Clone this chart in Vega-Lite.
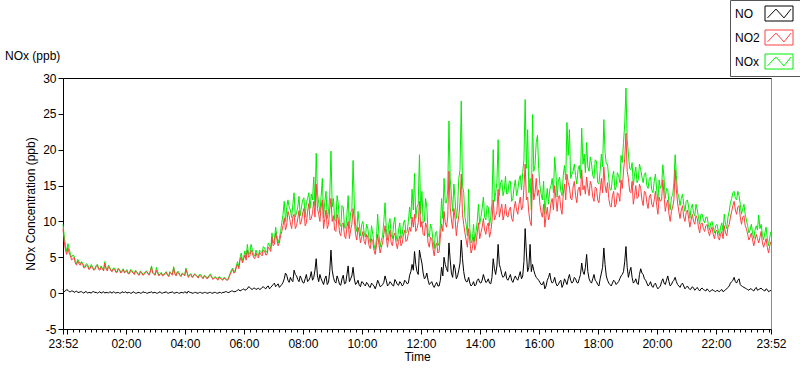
{
"$schema": "https://vega.github.io/schema/vega-lite/v6.json",
"width": 708, "height": 251,
"autosize": "none",
"padding": {"left": 63, "top": 78, "right": 29, "bottom": 40},
"background": "white",
"title": {"text": "NOx (ppb)", "anchor": "start", "frame": "group", "dx": -58, "offset": -63, "fontSize": 12, "fontWeight": "normal", "color": "#000"},
"config": {"font": "Liberation Sans", "view": {"stroke": "#8c8c8c", "strokeWidth": 1},
  "axis": {"labelFontSize": 12, "titleFontSize": 12, "titleFontWeight": "normal", "labelColor": "#000", "titleColor": "#000", "domainColor": "#000", "tickColor": "#000", "grid": false},
  "axisY": {"values": [-5,0,5,10,15,20,25,30], "tickSize": 5, "labelPadding": 2, "titlePadding": 5, "labelOverlap": false, "labelExpr": "datum.value < 0 ? '-' + abs(datum.value) : '' + datum.value"}},
"data": {"values": [
{"t":0,"NO":0.5,"NO2":9.0,"NOx":9.6},{"t":5,"NO":0.3,"NO2":6.0,"NOx":6.6},{"t":10,"NO":0.4,"NO2":6.3,"NOx":6.9},{"t":15,"NO":0.2,"NO2":5.2,"NOx":5.5},{"t":20,"NO":0.3,"NO2":4.8,"NOx":5.3},{"t":25,"NO":0.2,"NO2":4.2,"NOx":4.4},{"t":30,"NO":0.1,"NO2":4.5,"NOx":4.7},{"t":35,"NO":0.2,"NO2":3.9,"NOx":4.1},{"t":40,"NO":0.1,"NO2":4.0,"NOx":4.2},{"t":45,"NO":0.2,"NO2":3.6,"NOx":3.8},
{"t":50,"NO":0.0,"NO2":3.8,"NOx":4.0},{"t":55,"NO":0.1,"NO2":3.4,"NOx":3.5},{"t":60,"NO":0.2,"NO2":3.6,"NOx":3.7},{"t":65,"NO":0.1,"NO2":3.3,"NOx":3.4},{"t":70,"NO":0.0,"NO2":3.9,"NOx":4.0},{"t":75,"NO":0.2,"NO2":3.2,"NOx":3.4},{"t":80,"NO":0.1,"NO2":3.4,"NOx":3.5},{"t":85,"NO":0.0,"NO2":4.2,"NOx":4.4},{"t":90,"NO":0.1,"NO2":3.1,"NOx":3.2},{"t":95,"NO":0.2,"NO2":3.5,"NOx":3.6},
{"t":100,"NO":0.0,"NO2":3.0,"NOx":3.1},{"t":105,"NO":0.1,"NO2":3.3,"NOx":3.5},{"t":110,"NO":0.1,"NO2":2.9,"NOx":3.0},{"t":115,"NO":0.0,"NO2":3.2,"NOx":3.3},{"t":120,"NO":0.2,"NO2":3.0,"NOx":3.1},{"t":125,"NO":0.1,"NO2":2.8,"NOx":2.9},{"t":130,"NO":0.0,"NO2":3.1,"NOx":3.3},{"t":135,"NO":0.1,"NO2":2.7,"NOx":2.8},{"t":140,"NO":0.0,"NO2":3.0,"NOx":3.2},{"t":145,"NO":0.1,"NO2":2.6,"NOx":2.7},
{"t":150,"NO":0.0,"NO2":2.9,"NOx":3.0},{"t":155,"NO":0.1,"NO2":2.5,"NOx":2.6},{"t":160,"NO":0.0,"NO2":2.8,"NOx":2.9},{"t":165,"NO":0.1,"NO2":2.6,"NOx":2.7},{"t":170,"NO":0.0,"NO2":3.0,"NOx":3.1},{"t":175,"NO":0.1,"NO2":2.5,"NOx":2.6},{"t":180,"NO":0.2,"NO2":3.6,"NOx":3.8},{"t":185,"NO":0.1,"NO2":2.6,"NOx":2.7},{"t":190,"NO":0.0,"NO2":3.2,"NOx":3.6},{"t":195,"NO":0.1,"NO2":2.4,"NOx":2.5},
{"t":200,"NO":0.0,"NO2":2.8,"NOx":2.9},{"t":205,"NO":0.1,"NO2":2.5,"NOx":2.6},{"t":210,"NO":0.2,"NO2":2.9,"NOx":3.0},{"t":215,"NO":0.0,"NO2":2.3,"NOx":2.4},{"t":220,"NO":0.1,"NO2":2.7,"NOx":2.8},{"t":225,"NO":0.0,"NO2":3.5,"NOx":3.7},{"t":230,"NO":0.1,"NO2":2.4,"NOx":2.5},{"t":235,"NO":0.0,"NO2":2.8,"NOx":3.0},{"t":240,"NO":0.1,"NO2":2.3,"NOx":2.4},{"t":245,"NO":0.0,"NO2":2.6,"NOx":2.7},
{"t":250,"NO":0.1,"NO2":3.3,"NOx":3.5},{"t":255,"NO":0.3,"NO2":2.2,"NOx":2.3},{"t":260,"NO":0.1,"NO2":2.6,"NOx":2.7},{"t":265,"NO":0.0,"NO2":2.3,"NOx":2.4},{"t":270,"NO":0.1,"NO2":2.5,"NOx":2.6},{"t":275,"NO":0.0,"NO2":2.1,"NOx":2.2},{"t":280,"NO":0.1,"NO2":2.4,"NOx":2.6},{"t":285,"NO":0.0,"NO2":2.0,"NOx":2.1},{"t":290,"NO":0.1,"NO2":2.3,"NOx":2.4},{"t":295,"NO":0.0,"NO2":2.1,"NOx":2.2},
{"t":300,"NO":0.1,"NO2":2.5,"NOx":2.7},{"t":305,"NO":0.0,"NO2":1.9,"NOx":2.0},{"t":310,"NO":0.1,"NO2":2.2,"NOx":2.3},{"t":315,"NO":0.0,"NO2":1.8,"NOx":1.9},{"t":320,"NO":0.1,"NO2":2.1,"NOx":2.2},{"t":325,"NO":0.1,"NO2":1.8,"NOx":1.9},{"t":330,"NO":0.2,"NO2":2.0,"NOx":2.1},{"t":335,"NO":0.1,"NO2":1.8,"NOx":1.9},{"t":340,"NO":0.2,"NO2":2.6,"NOx":2.8},{"t":345,"NO":0.3,"NO2":3.3,"NOx":3.5},
{"t":350,"NO":0.2,"NO2":2.9,"NOx":3.1},{"t":355,"NO":0.4,"NO2":4.0,"NOx":4.4},{"t":360,"NO":0.3,"NO2":4.6,"NOx":4.9},{"t":365,"NO":0.5,"NO2":4.2,"NOx":4.5},{"t":370,"NO":0.4,"NO2":5.3,"NOx":5.9},{"t":375,"NO":0.6,"NO2":6.0,"NOx":6.8},{"t":380,"NO":0.8,"NO2":5.2,"NOx":5.6},{"t":385,"NO":0.5,"NO2":5.6,"NOx":6.1},{"t":390,"NO":0.7,"NO2":4.8,"NOx":5.2},{"t":395,"NO":0.6,"NO2":5.1,"NOx":5.5},
{"t":400,"NO":0.5,"NO2":5.7,"NOx":6.0},{"t":405,"NO":0.8,"NO2":5.2,"NOx":5.6},{"t":410,"NO":0.7,"NO2":5.9,"NOx":6.3},{"t":415,"NO":0.9,"NO2":5.4,"NOx":5.8},{"t":420,"NO":0.6,"NO2":6.2,"NOx":6.7},{"t":425,"NO":1.0,"NO2":7.8,"NOx":8.4},{"t":430,"NO":1.4,"NO2":6.8,"NOx":7.4},{"t":435,"NO":1.1,"NO2":7.5,"NOx":8.0},{"t":440,"NO":0.8,"NO2":7.0,"NOx":7.6},{"t":445,"NO":1.2,"NO2":8.6,"NOx":9.8},
{"t":450,"NO":2.0,"NO2":10.5,"NOx":12.8},{"t":455,"NO":2.5,"NO2":9.5,"NOx":11.9},{"t":460,"NO":1.5,"NO2":10.8,"NOx":12.0},{"t":465,"NO":1.8,"NO2":9.0,"NOx":10.5},{"t":470,"NO":3.2,"NO2":11.0,"NOx":14.0},{"t":475,"NO":2.4,"NO2":9.4,"NOx":11.2},{"t":480,"NO":1.6,"NO2":11.5,"NOx":13.5},{"t":485,"NO":2.0,"NO2":10.0,"NOx":12.0},{"t":490,"NO":1.4,"NO2":11.8,"NOx":13.3},{"t":495,"NO":2.6,"NO2":9.8,"NOx":12.6},
{"t":500,"NO":1.8,"NO2":12.5,"NOx":14.0},{"t":505,"NO":3.0,"NO2":10.4,"NOx":13.8},{"t":510,"NO":2.2,"NO2":12.8,"NOx":16.2},{"t":515,"NO":4.8,"NO2":15.2,"NOx":19.5},{"t":520,"NO":1.6,"NO2":11.0,"NOx":12.6},{"t":525,"NO":2.0,"NO2":12.0,"NOx":13.5},{"t":530,"NO":1.2,"NO2":9.0,"NOx":10.5},{"t":535,"NO":2.4,"NO2":11.6,"NOx":14.2},{"t":540,"NO":1.5,"NO2":9.6,"NOx":11.4},{"t":545,"NO":6.0,"NO2":13.2,"NOx":19.8},
{"t":550,"NO":2.2,"NO2":10.8,"NOx":13.2},{"t":555,"NO":1.4,"NO2":8.6,"NOx":10.0},{"t":560,"NO":1.9,"NO2":10.2,"NOx":12.4},{"t":565,"NO":1.1,"NO2":8.0,"NOx":9.3},{"t":570,"NO":2.5,"NO2":9.8,"NOx":12.0},{"t":575,"NO":1.4,"NO2":7.6,"NOx":9.0},{"t":580,"NO":3.8,"NO2":10.0,"NOx":13.6},{"t":585,"NO":2.0,"NO2":8.8,"NOx":11.2},{"t":590,"NO":3.6,"NO2":11.8,"NOx":18.5},{"t":595,"NO":1.2,"NO2":8.2,"NOx":9.5},
{"t":600,"NO":1.8,"NO2":9.2,"NOx":11.4},{"t":605,"NO":0.9,"NO2":7.0,"NOx":8.0},{"t":610,"NO":1.5,"NO2":8.6,"NOx":10.0},{"t":615,"NO":1.0,"NO2":6.8,"NOx":7.8},{"t":620,"NO":1.3,"NO2":7.8,"NOx":9.0},{"t":625,"NO":0.8,"NO2":6.2,"NOx":7.0},{"t":630,"NO":1.2,"NO2":7.2,"NOx":8.2},{"t":635,"NO":0.6,"NO2":5.4,"NOx":6.0},{"t":640,"NO":1.8,"NO2":8.2,"NOx":11.0},{"t":645,"NO":0.9,"NO2":5.6,"NOx":6.4},
{"t":650,"NO":1.2,"NO2":7.0,"NOx":8.0},{"t":655,"NO":2.4,"NO2":9.4,"NOx":12.6},{"t":660,"NO":1.0,"NO2":6.4,"NOx":7.4},{"t":665,"NO":1.6,"NO2":8.8,"NOx":10.4},{"t":670,"NO":1.1,"NO2":6.6,"NOx":7.6},{"t":675,"NO":1.9,"NO2":8.4,"NOx":10.6},{"t":680,"NO":1.2,"NO2":6.2,"NOx":7.2},{"t":685,"NO":1.6,"NO2":8.0,"NOx":9.8},{"t":690,"NO":1.0,"NO2":7.0,"NOx":8.2},{"t":695,"NO":1.8,"NO2":8.8,"NOx":10.2},
{"t":700,"NO":1.3,"NO2":7.4,"NOx":8.6},{"t":705,"NO":2.5,"NO2":9.2,"NOx":12.0},{"t":710,"NO":4.0,"NO2":10.6,"NOx":14.5},{"t":715,"NO":5.8,"NO2":11.0,"NOx":16.7},{"t":720,"NO":3.0,"NO2":9.0,"NOx":12.0},{"t":725,"NO":6.0,"NO2":12.8,"NOx":19.3},{"t":730,"NO":4.2,"NO2":10.0,"NOx":14.2},{"t":735,"NO":2.0,"NO2":8.0,"NOx":10.0},{"t":740,"NO":2.8,"NO2":9.2,"NOx":12.0},{"t":745,"NO":1.2,"NO2":6.4,"NOx":7.8},
{"t":750,"NO":1.6,"NO2":7.6,"NOx":9.0},{"t":755,"NO":0.8,"NO2":5.2,"NOx":6.2},{"t":760,"NO":1.5,"NO2":7.0,"NOx":8.6},{"t":765,"NO":1.0,"NO2":5.8,"NOx":7.0},{"t":770,"NO":3.6,"NO2":9.6,"NOx":13.2},{"t":775,"NO":5.0,"NO2":11.4,"NOx":16.0},{"t":780,"NO":3.4,"NO2":9.2,"NOx":12.6},{"t":785,"NO":7.0,"NO2":17.0,"NOx":24.0},{"t":790,"NO":2.8,"NO2":10.2,"NOx":13.6},{"t":795,"NO":4.0,"NO2":11.8,"NOx":15.2},
{"t":800,"NO":2.0,"NO2":8.0,"NOx":10.4},{"t":805,"NO":3.2,"NO2":10.8,"NOx":16.0},{"t":810,"NO":7.4,"NO2":16.6,"NOx":26.8},{"t":815,"NO":3.0,"NO2":9.6,"NOx":14.0},{"t":820,"NO":1.6,"NO2":7.4,"NOx":9.6},{"t":825,"NO":2.2,"NO2":9.0,"NOx":14.5},{"t":830,"NO":1.0,"NO2":5.6,"NOx":7.0},{"t":835,"NO":1.6,"NO2":7.8,"NOx":9.6},{"t":840,"NO":1.2,"NO2":6.8,"NOx":8.6},{"t":845,"NO":2.0,"NO2":9.8,"NOx":12.4},
{"t":850,"NO":1.4,"NO2":8.4,"NOx":10.6},{"t":855,"NO":2.6,"NO2":10.4,"NOx":13.4},{"t":860,"NO":1.5,"NO2":8.2,"NOx":10.2},{"t":865,"NO":2.0,"NO2":9.8,"NOx":12.0},{"t":870,"NO":1.3,"NO2":8.6,"NOx":10.6},{"t":875,"NO":4.8,"NO2":13.0,"NOx":20.0},{"t":880,"NO":2.6,"NO2":10.8,"NOx":14.0},{"t":885,"NO":6.8,"NO2":14.5,"NOx":21.4},{"t":890,"NO":3.4,"NO2":11.6,"NOx":15.4},{"t":895,"NO":2.2,"NO2":10.2,"NOx":13.6},
{"t":900,"NO":3.0,"NO2":12.4,"NOx":16.3},{"t":905,"NO":1.8,"NO2":10.6,"NOx":14.0},{"t":910,"NO":2.6,"NO2":12.0,"NOx":15.6},{"t":915,"NO":1.5,"NO2":10.0,"NOx":13.2},{"t":920,"NO":2.4,"NO2":12.8,"NOx":15.8},{"t":925,"NO":1.8,"NO2":11.0,"NOx":14.4},{"t":930,"NO":3.0,"NO2":13.4,"NOx":16.4},{"t":935,"NO":2.4,"NO2":12.0,"NOx":16.8},{"t":940,"NO":9.0,"NO2":18.0,"NOx":27.0},{"t":945,"NO":3.0,"NO2":13.4,"NOx":22.8},
{"t":950,"NO":6.8,"NO2":10.0,"NOx":16.0},{"t":955,"NO":4.0,"NO2":16.6,"NOx":24.9},{"t":960,"NO":2.6,"NO2":14.0,"NOx":17.8},{"t":965,"NO":2.0,"NO2":13.6,"NOx":22.0},{"t":970,"NO":1.5,"NO2":12.4,"NOx":15.0},{"t":975,"NO":1.2,"NO2":10.6,"NOx":13.0},{"t":980,"NO":0.6,"NO2":9.2,"NOx":11.0},{"t":985,"NO":1.8,"NO2":12.0,"NOx":14.6},{"t":990,"NO":2.8,"NO2":11.0,"NOx":14.4},{"t":995,"NO":1.4,"NO2":13.2,"NOx":16.0},
{"t":1000,"NO":2.2,"NO2":15.0,"NOx":19.0},{"t":1005,"NO":1.0,"NO2":11.4,"NOx":13.4},{"t":1010,"NO":1.6,"NO2":13.6,"NOx":16.2},{"t":1015,"NO":0.8,"NO2":11.0,"NOx":13.6},{"t":1020,"NO":2.0,"NO2":15.2,"NOx":17.8},{"t":1025,"NO":1.2,"NO2":16.6,"NOx":23.8},{"t":1030,"NO":2.6,"NO2":14.8,"NOx":22.8},{"t":1035,"NO":1.4,"NO2":13.0,"NOx":16.6},{"t":1040,"NO":2.2,"NO2":15.6,"NOx":18.0},{"t":1045,"NO":1.5,"NO2":12.6,"NOx":15.2},
{"t":1050,"NO":2.0,"NO2":14.8,"NOx":17.8},{"t":1055,"NO":4.2,"NO2":17.2,"NOx":23.0},{"t":1060,"NO":2.6,"NO2":15.0,"NOx":19.4},{"t":1065,"NO":5.4,"NO2":16.2,"NOx":21.0},{"t":1070,"NO":2.0,"NO2":13.6,"NOx":17.0},{"t":1075,"NO":1.4,"NO2":15.0,"NOx":18.0},{"t":1080,"NO":2.6,"NO2":12.8,"NOx":16.0},{"t":1085,"NO":1.6,"NO2":14.6,"NOx":18.4},{"t":1090,"NO":1.0,"NO2":12.6,"NOx":15.2},{"t":1095,"NO":2.8,"NO2":16.0,"NOx":19.4},
{"t":1100,"NO":6.3,"NO2":17.6,"NOx":24.2},{"t":1105,"NO":2.4,"NO2":14.0,"NOx":18.0},{"t":1110,"NO":1.4,"NO2":13.2,"NOx":16.0},{"t":1115,"NO":1.0,"NO2":12.0,"NOx":14.4},{"t":1120,"NO":1.8,"NO2":14.2,"NOx":17.0},{"t":1125,"NO":1.2,"NO2":12.4,"NOx":14.8},{"t":1130,"NO":1.6,"NO2":13.8,"NOx":16.4},{"t":1135,"NO":2.4,"NO2":15.8,"NOx":19.2},{"t":1140,"NO":3.0,"NO2":17.0,"NOx":21.0},{"t":1145,"NO":6.5,"NO2":22.3,"NOx":28.6},
{"t":1150,"NO":2.2,"NO2":16.0,"NOx":19.4},{"t":1155,"NO":3.6,"NO2":14.0,"NOx":17.2},{"t":1160,"NO":1.4,"NO2":12.4,"NOx":15.0},{"t":1165,"NO":2.0,"NO2":15.0,"NOx":17.6},{"t":1170,"NO":1.2,"NO2":13.4,"NOx":15.8},{"t":1175,"NO":3.4,"NO2":14.6,"NOx":17.2},{"t":1180,"NO":2.6,"NO2":12.2,"NOx":15.4},{"t":1185,"NO":1.8,"NO2":14.0,"NOx":16.8},{"t":1190,"NO":1.0,"NO2":11.8,"NOx":14.6},{"t":1195,"NO":1.6,"NO2":13.8,"NOx":16.2},
{"t":1200,"NO":0.8,"NO2":12.0,"NOx":14.0},{"t":1205,"NO":1.4,"NO2":14.2,"NOx":16.6},{"t":1210,"NO":0.6,"NO2":11.0,"NOx":12.8},{"t":1215,"NO":1.0,"NO2":12.8,"NOx":14.6},{"t":1220,"NO":2.0,"NO2":15.8,"NOx":17.9},{"t":1225,"NO":1.2,"NO2":11.4,"NOx":13.2},{"t":1230,"NO":2.4,"NO2":13.0,"NOx":14.4},{"t":1235,"NO":1.0,"NO2":10.0,"NOx":11.6},{"t":1240,"NO":1.6,"NO2":12.0,"NOx":13.6},{"t":1245,"NO":2.2,"NO2":17.2,"NOx":19.3},
{"t":1250,"NO":1.2,"NO2":12.6,"NOx":14.0},{"t":1255,"NO":0.8,"NO2":10.4,"NOx":12.2},{"t":1260,"NO":1.4,"NO2":12.2,"NOx":13.8},{"t":1265,"NO":0.6,"NO2":10.0,"NOx":11.4},{"t":1270,"NO":1.0,"NO2":11.6,"NOx":13.0},{"t":1275,"NO":0.5,"NO2":9.2,"NOx":10.4},{"t":1280,"NO":0.9,"NO2":11.0,"NOx":12.4},{"t":1285,"NO":0.4,"NO2":9.6,"NOx":10.8},{"t":1290,"NO":0.8,"NO2":10.4,"NOx":11.6},{"t":1295,"NO":0.3,"NO2":8.4,"NOx":9.6},
{"t":1300,"NO":0.7,"NO2":9.8,"NOx":11.0},{"t":1305,"NO":0.4,"NO2":8.6,"NOx":9.8},{"t":1310,"NO":0.6,"NO2":9.6,"NOx":10.6},{"t":1315,"NO":0.2,"NO2":8.0,"NOx":8.8},{"t":1320,"NO":0.5,"NO2":9.2,"NOx":10.0},{"t":1325,"NO":0.3,"NO2":7.6,"NOx":8.4},{"t":1330,"NO":0.4,"NO2":8.8,"NOx":9.6},{"t":1335,"NO":0.2,"NO2":7.4,"NOx":8.0},{"t":1340,"NO":0.5,"NO2":8.6,"NOx":9.8},{"t":1345,"NO":0.3,"NO2":9.4,"NOx":11.0},
{"t":1350,"NO":0.6,"NO2":8.0,"NOx":9.0},{"t":1355,"NO":1.0,"NO2":9.6,"NOx":11.4},{"t":1360,"NO":1.6,"NO2":11.4,"NOx":13.2},{"t":1365,"NO":2.2,"NO2":12.8,"NOx":14.2},{"t":1370,"NO":1.4,"NO2":11.0,"NOx":13.0},{"t":1375,"NO":2.0,"NO2":12.2,"NOx":13.6},{"t":1380,"NO":1.0,"NO2":9.6,"NOx":11.0},{"t":1385,"NO":0.8,"NO2":10.8,"NOx":12.4},{"t":1390,"NO":0.6,"NO2":9.0,"NOx":10.2},{"t":1395,"NO":0.4,"NO2":7.4,"NOx":8.4},
{"t":1400,"NO":0.6,"NO2":8.4,"NOx":9.6},{"t":1405,"NO":0.3,"NO2":6.6,"NOx":7.6},{"t":1410,"NO":0.8,"NO2":8.2,"NOx":9.4},{"t":1415,"NO":0.5,"NO2":7.0,"NOx":10.9},{"t":1420,"NO":0.7,"NO2":8.6,"NOx":9.6},{"t":1425,"NO":0.4,"NO2":6.4,"NOx":7.4},{"t":1430,"NO":0.6,"NO2":7.6,"NOx":9.2},{"t":1435,"NO":0.2,"NO2":5.6,"NOx":6.6},{"t":1440,"NO":0.4,"NO2":7.2,"NOx":8.6},
{"t":2.5,"NO":0.2,"NO2":7.2,"NOx":8.0},{"t":7.5,"NO":0.5,"NO2":5.4,"NOx":5.8},{"t":12.5,"NO":0.2,"NO2":5.6,"NOx":6.2},{"t":17.5,"NO":0.3,"NO2":4.6,"NOx":5.0},{"t":22.5,"NO":0.1,"NO2":5.0,"NOx":5.2},{"t":27.5,"NO":0.3,"NO2":3.9,"NOx":4.1},{"t":32.5,"NO":0.1,"NO2":4.1,"NOx":4.4},{"t":37.5,"NO":0.2,"NO2":4.3,"NOx":4.4},{"t":42.5,"NO":0.0,"NO2":3.5,"NOx":3.7},{"t":47.5,"NO":0.2,"NO2":3.9,"NOx":4.1},
{"t":52.5,"NO":0.1,"NO2":3.3,"NOx":3.5},{"t":57.5,"NO":0.0,"NO2":3.8,"NOx":4.0},{"t":62.5,"NO":0.2,"NO2":3.2,"NOx":3.3},{"t":67.5,"NO":0.1,"NO2":3.7,"NOx":3.9},{"t":72.5,"NO":0.1,"NO2":3.3,"NOx":3.4},{"t":77.5,"NO":0.0,"NO2":3.6,"NOx":3.8},{"t":82.5,"NO":0.2,"NO2":3.1,"NOx":3.2},{"t":87.5,"NO":0.1,"NO2":3.4,"NOx":3.5},{"t":92.5,"NO":0.0,"NO2":3.7,"NOx":3.9},{"t":97.5,"NO":0.1,"NO2":3.1,"NOx":3.2},
{"t":102.5,"NO":0.2,"NO2":3.4,"NOx":3.5},{"t":107.5,"NO":0.0,"NO2":2.9,"NOx":3.0},{"t":112.5,"NO":0.1,"NO2":3.4,"NOx":3.5},{"t":117.5,"NO":0.0,"NO2":2.8,"NOx":2.9},{"t":122.5,"NO":0.1,"NO2":3.3,"NOx":3.4},{"t":127.5,"NO":0.2,"NO2":3.0,"NOx":3.1},{"t":132.5,"NO":0.1,"NO2":2.7,"NOx":2.8},{"t":137.5,"NO":0.0,"NO2":3.2,"NOx":3.3},{"t":142.5,"NO":0.2,"NO2":2.8,"NOx":2.9},{"t":147.5,"NO":0.0,"NO2":3.1,"NOx":3.2},
{"t":152.5,"NO":0.1,"NO2":2.6,"NOx":2.7},{"t":157.5,"NO":0.0,"NO2":3.0,"NOx":3.1},{"t":162.5,"NO":0.2,"NO2":2.5,"NOx":2.6},{"t":167.5,"NO":0.1,"NO2":2.9,"NOx":3.0},{"t":172.5,"NO":0.0,"NO2":2.7,"NOx":2.8},{"t":177.5,"NO":0.1,"NO2":2.9,"NOx":3.1},{"t":182.5,"NO":0.0,"NO2":2.8,"NOx":2.9},{"t":187.5,"NO":0.1,"NO2":2.5,"NOx":2.6},{"t":192.5,"NO":0.0,"NO2":2.8,"NOx":3.0},{"t":197.5,"NO":0.2,"NO2":2.6,"NOx":2.7},
{"t":202.5,"NO":0.0,"NO2":2.4,"NOx":2.5},{"t":207.5,"NO":0.1,"NO2":2.7,"NOx":2.8},{"t":212.5,"NO":0.0,"NO2":2.5,"NOx":2.6},{"t":217.5,"NO":0.1,"NO2":2.9,"NOx":3.0},{"t":222.5,"NO":0.2,"NO2":2.5,"NOx":2.6},{"t":227.5,"NO":0.0,"NO2":2.7,"NOx":2.8},{"t":232.5,"NO":0.1,"NO2":2.9,"NOx":3.0},{"t":237.5,"NO":0.0,"NO2":2.5,"NOx":2.6},{"t":242.5,"NO":0.1,"NO2":2.7,"NOx":2.8},{"t":247.5,"NO":0.2,"NO2":2.4,"NOx":2.5},
{"t":252.5,"NO":0.0,"NO2":2.8,"NOx":2.9},{"t":257.5,"NO":0.1,"NO2":2.5,"NOx":2.6},{"t":262.5,"NO":0.0,"NO2":2.2,"NOx":2.3},{"t":267.5,"NO":0.1,"NO2":2.6,"NOx":2.7},{"t":272.5,"NO":0.0,"NO2":2.3,"NOx":2.4},{"t":277.5,"NO":0.1,"NO2":2.5,"NOx":2.6},{"t":282.5,"NO":0.0,"NO2":2.2,"NOx":2.3},{"t":287.5,"NO":0.1,"NO2":2.4,"NOx":2.5},{"t":292.5,"NO":0.0,"NO2":2.0,"NOx":2.1},{"t":297.5,"NO":0.1,"NO2":2.4,"NOx":2.5},
{"t":302.5,"NO":0.0,"NO2":2.2,"NOx":2.3},{"t":307.5,"NO":0.1,"NO2":2.1,"NOx":2.2},{"t":312.5,"NO":0.0,"NO2":2.0,"NOx":2.1},{"t":317.5,"NO":0.1,"NO2":2.2,"NOx":2.3},{"t":322.5,"NO":0.0,"NO2":1.9,"NOx":2.0},{"t":327.5,"NO":0.1,"NO2":2.1,"NOx":2.2},{"t":332.5,"NO":0.2,"NO2":1.8,"NOx":1.9},{"t":337.5,"NO":0.1,"NO2":2.2,"NOx":2.3},{"t":342.5,"NO":0.3,"NO2":3.0,"NOx":3.2},{"t":347.5,"NO":0.2,"NO2":2.8,"NOx":3.0},
{"t":352.5,"NO":0.3,"NO2":3.6,"NOx":3.8},{"t":357.5,"NO":0.5,"NO2":3.4,"NOx":3.6},{"t":362.5,"NO":0.4,"NO2":5.0,"NOx":5.6},{"t":367.5,"NO":0.6,"NO2":4.8,"NOx":5.0},{"t":372.5,"NO":0.5,"NO2":4.6,"NOx":5.0},{"t":377.5,"NO":0.9,"NO2":5.0,"NOx":5.4},{"t":382.5,"NO":0.6,"NO2":6.0,"NOx":6.8},{"t":387.5,"NO":0.7,"NO2":5.0,"NOx":5.3},{"t":392.5,"NO":0.5,"NO2":5.6,"NOx":6.0},{"t":397.5,"NO":0.7,"NO2":4.9,"NOx":5.2},
{"t":402.5,"NO":0.6,"NO2":5.4,"NOx":5.8},{"t":407.5,"NO":0.9,"NO2":6.0,"NOx":6.5},{"t":412.5,"NO":0.6,"NO2":5.3,"NOx":5.7},{"t":417.5,"NO":1.0,"NO2":6.4,"NOx":7.0},{"t":422.5,"NO":0.8,"NO2":5.8,"NOx":6.2},{"t":427.5,"NO":1.2,"NO2":6.6,"NOx":7.0},{"t":432.5,"NO":0.9,"NO2":8.4,"NOx":9.2},{"t":437.5,"NO":1.3,"NO2":6.6,"NOx":7.0},{"t":442.5,"NO":1.0,"NO2":8.0,"NOx":8.6},{"t":447.5,"NO":1.5,"NO2":9.4,"NOx":11.0},
{"t":452.5,"NO":2.8,"NO2":8.8,"NOx":10.0},{"t":457.5,"NO":1.8,"NO2":11.4,"NOx":13.0},{"t":462.5,"NO":2.2,"NO2":9.8,"NOx":11.6},{"t":467.5,"NO":1.6,"NO2":10.6,"NOx":12.4},{"t":472.5,"NO":2.6,"NO2":9.0,"NOx":10.6},{"t":477.5,"NO":1.9,"NO2":10.4,"NOx":12.0},{"t":482.5,"NO":2.4,"NO2":9.6,"NOx":10.8},{"t":487.5,"NO":1.5,"NO2":11.2,"NOx":13.0},{"t":492.5,"NO":2.0,"NO2":9.4,"NOx":10.6},{"t":497.5,"NO":1.6,"NO2":11.4,"NOx":13.2},
{"t":502.5,"NO":2.2,"NO2":10.2,"NOx":11.8},{"t":507.5,"NO":1.8,"NO2":11.2,"NOx":13.0},{"t":512.5,"NO":3.2,"NO2":10.6,"NOx":12.2},{"t":517.5,"NO":2.4,"NO2":11.8,"NOx":14.0},{"t":522.5,"NO":2.6,"NO2":10.0,"NOx":11.2},{"t":527.5,"NO":1.6,"NO2":13.0,"NOx":16.0},{"t":532.5,"NO":2.0,"NO2":10.4,"NOx":12.8},{"t":537.5,"NO":1.2,"NO2":9.0,"NOx":10.4},{"t":542.5,"NO":3.0,"NO2":11.6,"NOx":13.4},{"t":547.5,"NO":3.2,"NO2":10.0,"NOx":12.0},
{"t":552.5,"NO":1.6,"NO2":8.8,"NOx":10.2},{"t":557.5,"NO":2.4,"NO2":11.0,"NOx":13.6},{"t":562.5,"NO":1.2,"NO2":8.4,"NOx":9.6},{"t":567.5,"NO":2.0,"NO2":9.6,"NOx":12.2},{"t":572.5,"NO":1.3,"NO2":8.0,"NOx":9.2},{"t":577.5,"NO":2.6,"NO2":9.2,"NOx":11.0},{"t":582.5,"NO":1.6,"NO2":7.6,"NOx":9.0},{"t":587.5,"NO":2.4,"NO2":9.6,"NOx":11.6},{"t":592.5,"NO":2.0,"NO2":10.2,"NOx":12.4},{"t":597.5,"NO":1.4,"NO2":7.4,"NOx":8.6},
{"t":602.5,"NO":1.1,"NO2":8.4,"NOx":9.8},{"t":607.5,"NO":1.6,"NO2":7.8,"NOx":9.6},{"t":612.5,"NO":1.2,"NO2":7.2,"NOx":8.4},{"t":617.5,"NO":1.5,"NO2":8.2,"NOx":9.6},{"t":622.5,"NO":0.9,"NO2":6.6,"NOx":7.6},{"t":627.5,"NO":1.4,"NO2":7.6,"NOx":9.4},{"t":632.5,"NO":1.0,"NO2":6.0,"NOx":6.8},{"t":637.5,"NO":1.1,"NO2":6.6,"NOx":7.6},{"t":642.5,"NO":1.4,"NO2":6.8,"NOx":8.2},{"t":647.5,"NO":1.0,"NO2":6.4,"NOx":7.4},
{"t":652.5,"NO":1.5,"NO2":8.2,"NOx":10.0},{"t":657.5,"NO":1.8,"NO2":7.8,"NOx":9.0},{"t":662.5,"NO":1.2,"NO2":7.8,"NOx":9.6},{"t":667.5,"NO":1.4,"NO2":7.0,"NOx":8.2},{"t":672.5,"NO":1.0,"NO2":8.0,"NOx":9.6},{"t":677.5,"NO":1.6,"NO2":7.0,"NOx":8.0},{"t":682.5,"NO":1.1,"NO2":7.2,"NOx":8.8},{"t":687.5,"NO":1.4,"NO2":6.6,"NOx":7.6},{"t":692.5,"NO":1.2,"NO2":8.2,"NOx":9.8},{"t":697.5,"NO":1.6,"NO2":7.2,"NOx":8.4},
{"t":702.5,"NO":1.4,"NO2":8.4,"NOx":10.0},{"t":707.5,"NO":3.0,"NO2":8.6,"NOx":10.4},{"t":712.5,"NO":3.2,"NO2":9.2,"NOx":11.6},{"t":717.5,"NO":4.0,"NO2":8.6,"NOx":10.4},{"t":722.5,"NO":2.6,"NO2":9.8,"NOx":12.4},{"t":727.5,"NO":5.0,"NO2":9.2,"NOx":11.0},{"t":732.5,"NO":2.8,"NO2":8.2,"NOx":9.8},{"t":737.5,"NO":2.2,"NO2":9.8,"NOx":13.2},{"t":742.5,"NO":1.8,"NO2":7.0,"NOx":8.4},{"t":747.5,"NO":1.4,"NO2":7.8,"NOx":9.6},
{"t":752.5,"NO":1.1,"NO2":6.2,"NOx":7.4},{"t":757.5,"NO":1.2,"NO2":6.6,"NOx":8.4},{"t":762.5,"NO":1.0,"NO2":5.6,"NOx":6.6},{"t":767.5,"NO":1.8,"NO2":7.8,"NOx":9.4},{"t":772.5,"NO":2.4,"NO2":8.6,"NOx":10.4},{"t":777.5,"NO":4.0,"NO2":9.8,"NOx":12.6},{"t":782.5,"NO":3.0,"NO2":10.6,"NOx":14.4},{"t":787.5,"NO":4.6,"NO2":12.0,"NOx":16.0},{"t":792.5,"NO":2.2,"NO2":9.0,"NOx":11.4},{"t":797.5,"NO":3.4,"NO2":10.4,"NOx":13.0},
{"t":802.5,"NO":2.4,"NO2":9.6,"NOx":12.0},{"t":807.5,"NO":4.2,"NO2":12.6,"NOx":17.2},{"t":812.5,"NO":4.8,"NO2":11.0,"NOx":15.0},{"t":817.5,"NO":2.0,"NO2":8.4,"NOx":10.6},{"t":822.5,"NO":1.6,"NO2":6.4,"NOx":8.0},{"t":827.5,"NO":1.4,"NO2":7.2,"NOx":9.0},{"t":832.5,"NO":1.2,"NO2":6.2,"NOx":7.4},{"t":837.5,"NO":1.0,"NO2":6.0,"NOx":7.2},{"t":842.5,"NO":1.8,"NO2":8.4,"NOx":10.0},{"t":847.5,"NO":1.5,"NO2":7.6,"NOx":9.6},
{"t":852.5,"NO":1.8,"NO2":9.2,"NOx":11.8},{"t":857.5,"NO":2.0,"NO2":8.8,"NOx":10.6},{"t":862.5,"NO":1.6,"NO2":9.4,"NOx":12.2},{"t":867.5,"NO":1.4,"NO2":7.8,"NOx":9.4},{"t":872.5,"NO":2.2,"NO2":10.0,"NOx":12.6},{"t":877.5,"NO":3.4,"NO2":10.2,"NOx":12.8},{"t":882.5,"NO":3.8,"NO2":11.4,"NOx":15.4},{"t":887.5,"NO":4.0,"NO2":10.6,"NOx":13.6},{"t":892.5,"NO":2.6,"NO2":12.4,"NOx":15.8},{"t":897.5,"NO":2.4,"NO2":11.0,"NOx":14.4},
{"t":902.5,"NO":2.0,"NO2":10.8,"NOx":13.8},{"t":907.5,"NO":2.2,"NO2":11.6,"NOx":15.6},{"t":912.5,"NO":1.8,"NO2":10.4,"NOx":12.8},{"t":917.5,"NO":2.0,"NO2":11.8,"NOx":14.8},{"t":922.5,"NO":2.0,"NO2":11.6,"NOx":13.6},{"t":927.5,"NO":2.4,"NO2":12.4,"NOx":15.8},{"t":932.5,"NO":2.0,"NO2":11.6,"NOx":14.4},{"t":937.5,"NO":4.4,"NO2":14.8,"NOx":18.6},{"t":942.5,"NO":5.6,"NO2":13.0,"NOx":17.4},{"t":947.5,"NO":3.6,"NO2":11.2,"NOx":14.0},
{"t":952.5,"NO":3.0,"NO2":9.4,"NOx":11.6},{"t":957.5,"NO":3.2,"NO2":13.0,"NOx":17.0},{"t":962.5,"NO":2.2,"NO2":16.0,"NOx":21.0},{"t":967.5,"NO":1.8,"NO2":14.4,"NOx":17.4},{"t":972.5,"NO":1.2,"NO2":11.2,"NOx":13.8},{"t":977.5,"NO":1.6,"NO2":12.4,"NOx":15.6},{"t":982.5,"NO":1.0,"NO2":10.8,"NOx":13.0},{"t":987.5,"NO":2.2,"NO2":10.2,"NOx":12.4},{"t":992.5,"NO":1.8,"NO2":12.6,"NOx":15.0},{"t":997.5,"NO":1.6,"NO2":11.6,"NOx":14.0},
{"t":1002.5,"NO":1.4,"NO2":13.2,"NOx":16.8},{"t":1007.5,"NO":1.2,"NO2":13.4,"NOx":15.6},{"t":1012.5,"NO":1.8,"NO2":11.8,"NOx":14.2},{"t":1017.5,"NO":1.2,"NO2":13.8,"NOx":16.4},{"t":1022.5,"NO":1.6,"NO2":13.0,"NOx":15.8},{"t":1027.5,"NO":2.0,"NO2":15.4,"NOx":19.2},{"t":1032.5,"NO":1.8,"NO2":13.2,"NOx":16.0},{"t":1037.5,"NO":1.6,"NO2":14.8,"NOx":17.0},{"t":1042.5,"NO":2.0,"NO2":13.6,"NOx":16.4},{"t":1047.5,"NO":1.4,"NO2":14.4,"NOx":17.2},
{"t":1052.5,"NO":2.6,"NO2":13.6,"NOx":16.0},{"t":1057.5,"NO":3.0,"NO2":14.4,"NOx":18.0},{"t":1062.5,"NO":3.6,"NO2":13.8,"NOx":16.8},{"t":1067.5,"NO":3.0,"NO2":14.6,"NOx":17.6},{"t":1072.5,"NO":1.6,"NO2":15.6,"NOx":19.0},{"t":1077.5,"NO":2.0,"NO2":13.4,"NOx":16.4},{"t":1082.5,"NO":1.8,"NO2":14.8,"NOx":18.6},{"t":1087.5,"NO":1.2,"NO2":13.0,"NOx":15.4},{"t":1092.5,"NO":2.0,"NO2":14.2,"NOx":17.0},{"t":1097.5,"NO":3.6,"NO2":14.0,"NOx":17.6},
{"t":1102.5,"NO":4.0,"NO2":15.0,"NOx":19.6},{"t":1107.5,"NO":1.8,"NO2":15.4,"NOx":18.0},{"t":1112.5,"NO":1.2,"NO2":12.2,"NOx":14.4},{"t":1117.5,"NO":1.4,"NO2":13.6,"NOx":16.2},{"t":1122.5,"NO":1.6,"NO2":12.0,"NOx":14.4},{"t":1127.5,"NO":1.4,"NO2":14.0,"NOx":16.8},{"t":1132.5,"NO":2.0,"NO2":12.8,"NOx":15.4},{"t":1137.5,"NO":2.6,"NO2":14.6,"NOx":18.2},{"t":1142.5,"NO":4.4,"NO2":18.8,"NOx":23.6},{"t":1147.5,"NO":3.6,"NO2":17.0,"NOx":21.4},
{"t":1152.5,"NO":3.0,"NO2":14.2,"NOx":17.4},{"t":1157.5,"NO":2.2,"NO2":15.6,"NOx":18.2},{"t":1162.5,"NO":1.6,"NO2":13.6,"NOx":16.6},{"t":1167.5,"NO":1.4,"NO2":13.2,"NOx":15.4},{"t":1172.5,"NO":2.6,"NO2":15.2,"NOx":18.0},{"t":1177.5,"NO":2.8,"NO2":13.0,"NOx":16.2},{"t":1182.5,"NO":2.0,"NO2":14.2,"NOx":16.6},{"t":1187.5,"NO":1.4,"NO2":12.6,"NOx":15.0},{"t":1192.5,"NO":1.2,"NO2":13.4,"NOx":16.0},{"t":1197.5,"NO":1.0,"NO2":12.4,"NOx":14.4},
{"t":1202.5,"NO":1.2,"NO2":13.0,"NOx":15.6},{"t":1207.5,"NO":0.9,"NO2":12.2,"NOx":14.4},{"t":1212.5,"NO":0.8,"NO2":13.4,"NOx":15.8},{"t":1217.5,"NO":1.6,"NO2":13.0,"NOx":15.0},{"t":1222.5,"NO":1.4,"NO2":13.6,"NOx":16.0},{"t":1227.5,"NO":1.8,"NO2":12.4,"NOx":14.6},{"t":1232.5,"NO":1.6,"NO2":11.0,"NOx":12.6},{"t":1237.5,"NO":1.2,"NO2":11.4,"NOx":13.4},{"t":1242.5,"NO":1.8,"NO2":13.0,"NOx":15.4},{"t":1247.5,"NO":1.6,"NO2":14.4,"NOx":16.4},
{"t":1252.5,"NO":1.0,"NO2":11.4,"NOx":13.4},{"t":1257.5,"NO":1.2,"NO2":11.6,"NOx":13.2},{"t":1262.5,"NO":1.0,"NO2":10.6,"NOx":12.4},{"t":1267.5,"NO":0.8,"NO2":11.2,"NOx":12.8},{"t":1272.5,"NO":0.7,"NO2":10.4,"NOx":12.0},{"t":1277.5,"NO":0.6,"NO2":10.2,"NOx":11.8},{"t":1282.5,"NO":0.7,"NO2":10.0,"NOx":11.2},{"t":1287.5,"NO":0.6,"NO2":10.8,"NOx":12.4},{"t":1292.5,"NO":0.5,"NO2":9.2,"NOx":10.6},{"t":1297.5,"NO":0.6,"NO2":9.6,"NOx":11.0},
{"t":1302.5,"NO":0.5,"NO2":9.0,"NOx":10.2},{"t":1307.5,"NO":0.3,"NO2":9.4,"NOx":10.6},{"t":1312.5,"NO":0.4,"NO2":8.6,"NOx":9.6},{"t":1317.5,"NO":0.3,"NO2":8.8,"NOx":9.8},{"t":1322.5,"NO":0.4,"NO2":8.2,"NOx":9.2},{"t":1327.5,"NO":0.2,"NO2":8.6,"NOx":9.4},{"t":1332.5,"NO":0.3,"NO2":7.8,"NOx":8.8},{"t":1337.5,"NO":0.4,"NO2":8.2,"NOx":9.2},{"t":1342.5,"NO":0.2,"NO2":7.6,"NOx":8.6},{"t":1347.5,"NO":0.5,"NO2":8.4,"NOx":9.6},
{"t":1352.5,"NO":0.8,"NO2":9.2,"NOx":10.6},{"t":1357.5,"NO":1.4,"NO2":10.6,"NOx":12.6},{"t":1362.5,"NO":1.8,"NO2":12.2,"NOx":14.0},{"t":1367.5,"NO":1.6,"NO2":11.6,"NOx":13.2},{"t":1372.5,"NO":1.8,"NO2":12.0,"NOx":14.2},{"t":1377.5,"NO":1.2,"NO2":10.6,"NOx":12.4},{"t":1382.5,"NO":0.9,"NO2":10.6,"NOx":11.8},{"t":1387.5,"NO":0.7,"NO2":9.4,"NOx":11.0},{"t":1392.5,"NO":0.5,"NO2":8.2,"NOx":9.4},{"t":1397.5,"NO":0.6,"NO2":7.8,"NOx":8.8},
{"t":1402.5,"NO":0.4,"NO2":7.4,"NOx":8.4},{"t":1407.5,"NO":0.6,"NO2":7.4,"NOx":8.8},{"t":1412.5,"NO":0.4,"NO2":7.6,"NOx":8.8},{"t":1417.5,"NO":0.6,"NO2":7.8,"NOx":9.0},{"t":1422.5,"NO":0.5,"NO2":7.0,"NOx":8.2},{"t":1427.5,"NO":0.3,"NO2":7.0,"NOx":8.4},{"t":1432.5,"NO":0.5,"NO2":6.4,"NOx":7.6},{"t":1437.5,"NO":0.3,"NO2":6.6,"NOx":7.8}
]},
"resolve": {"axis": {"x": "independent"}},
"layer": [
 {"mark": {"type": "line", "strokeWidth": 1, "interpolate": "linear"},
  "encoding": {
   "x": {"field": "t", "type": "quantitative", "scale": {"domain": [0, 1440], "nice": false, "zero": false},
     "axis": {"title": "Time", "titlePadding": 2, "labelPadding": 4, "labelOverlap": false, "labelFlush": false,
       "values": [0,8,20,32,44,56,68,80,92,104,116,128,140,152,164,176,188,200,212,224,236,248,260,272,284,296,308,320,332,344,356,368,380,392,404,416,428,440,452,464,476,488,500,512,524,536,548,560,572,584,596,608,620,632,644,656,668,680,692,704,716,728,740,752,764,776,788,800,812,824,836,848,860,872,884,896,908,920,932,944,956,968,980,992,1004,1016,1028,1040,1052,1064,1076,1088,1100,1112,1124,1136,1148,1160,1172,1184,1196,1208,1220,1232,1244,1256,1268,1280,1292,1304,1316,1328,1340,1352,1364,1376,1388,1400,1412,1424,1436,1440],
       "tickSize": {"condition": {"test": "datum.value == 0 || datum.value == 1440 || (datum.value - 8) % 120 == 0", "value": 5}, "value": 3},
       "labelExpr": "(datum.value == 0 || datum.value == 1440 || (datum.value > 8 && (datum.value - 8) % 120 == 0)) ? timeFormat(datetime(2000,0,1,23,52 + datum.value), '%H:%M') : ''"}},
   "y": {"field": "NOx", "type": "quantitative", "scale": {"domain": [-5, 30], "nice": false, "zero": false},
     "axis": {"title": "NOx Concentration (ppb)"}},
   "color": {"datum": "NOx", "scale": {"domain": ["NO", "NO2", "NOx"], "range": ["#000000", "#ff4040", "#00ee00"]},
     "legend": {"title": null, "orient": "none", "legendX": 667, "legendY": -78, "padding": 5, "strokeColor": "#555555", "fillColor": "#ffffff",
       "symbolType": "M2.6875,-0.9375H6.1875V0.9375H2.6875Z M3.0,0.55L4.06,-0.55L5.06,0.55L5.94,-0.55",
       "symbolSize": 256, "symbolStrokeWidth": 1, "symbolFillColor": "transparent", "labelOffset": -17, "labelAlign": "left",
       "labelFontSize": 12, "labelColor": "#000", "rowPadding": 5}}
  }},
 {"mark": {"type": "line", "strokeWidth": 1},
  "encoding": {
   "x": {"field": "t", "type": "quantitative", "scale": {"domain": [0, 1440], "nice": false, "zero": false},
     "axis": {"orient": "top", "labels": false, "ticks": false, "title": null, "domainColor": "#000"}},
   "y": {"field": "NO2", "type": "quantitative", "scale": {"domain": [-5, 30], "nice": false, "zero": false}, "axis": {"title": "NOx Concentration (ppb)"}},
   "color": {"datum": "NO2", "scale": {"domain": ["NO", "NO2", "NOx"], "range": ["#000000", "#ff4040", "#00ee00"]}}
  }},
 {"mark": {"type": "line", "strokeWidth": 1},
  "encoding": {
   "x": {"field": "t", "type": "quantitative", "scale": {"domain": [0, 1440], "nice": false, "zero": false}, "axis": null},
   "y": {"field": "NO", "type": "quantitative", "scale": {"domain": [-5, 30], "nice": false, "zero": false}, "axis": {"title": "NOx Concentration (ppb)"}},
   "color": {"datum": "NO", "scale": {"domain": ["NO", "NO2", "NOx"], "range": ["#000000", "#ff4040", "#00ee00"]}}
  }}
]
}
